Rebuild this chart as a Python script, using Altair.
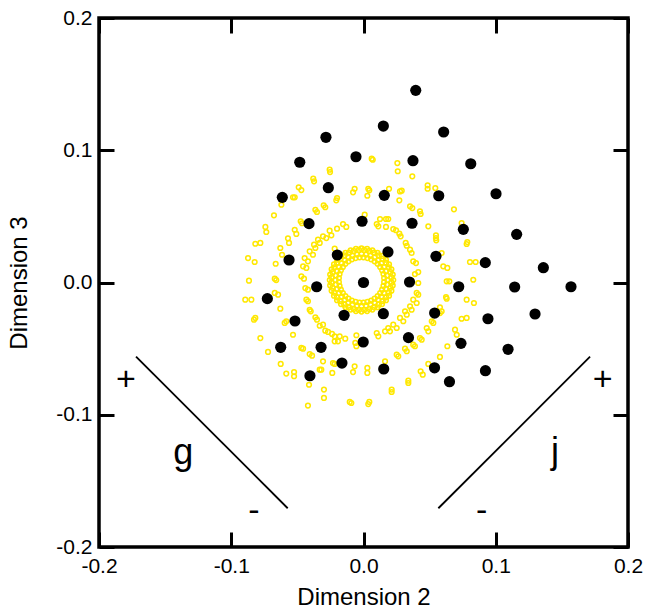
import altair as alt
import pandas as pd

# ---------------- data ----------------
black_x = [0.0395, 0.0150, 0.0606, -0.0284, -0.0482, -0.0057, 0.0374, 0.0811,
           -0.0266, -0.0614, 0.0157, 0.0569, 0.1002, -0.0412, -0.0011, 0.0367,
           0.0755, 0.1158, -0.0198, 0.0185, -0.0563, 0.0548, 0.0921, 0.1360,
           -0.0727, -0.0354, 0.0000, 0.0348, 0.0720, 0.1143, 0.1569, -0.0147,
           0.0150, -0.0518, 0.0538, 0.0941, 0.1297, -0.0002, 0.0340, 0.0737,
           0.1093, -0.0626, -0.0321, -0.0163, 0.0153, -0.0405, 0.0537, 0.0922,
           0.0650]
black_y = [0.1453, 0.1183, 0.1138, 0.1098, 0.0909, 0.0951, 0.0921, 0.0898,
           0.0717, 0.0644, 0.0659, 0.0656, 0.0671, 0.0445, 0.0463, 0.0448,
           0.0402, 0.0364, 0.0208, 0.0231, 0.0170, 0.0198, 0.0150, 0.0112,
           -0.0122, -0.0032, 0.0000, 0.0004, -0.0032, -0.0034, -0.0032, -0.0248,
           -0.0236, -0.0291, -0.0231, -0.0274, -0.0238, -0.0450, -0.0417, -0.0460,
           -0.0505, -0.0490, -0.0490, -0.0609, -0.0654, -0.0705, -0.0645, -0.0667,
           -0.0750]

# scattered yellow open circles (outer rings)
yellow_x = [-0.0256, -0.0253, -0.0380, -0.0374, -0.0490, -0.0470, -0.0533, -0.0520,
            -0.0621, -0.0677, -0.0742, -0.0735, -0.0818, -0.0780, -0.0873, -0.0823,
            -0.0866, -0.0067, -0.0079, -0.0200, -0.0206, -0.0301, -0.0289, -0.0364,
            -0.0352, -0.0475, -0.0465, -0.0520, -0.0508, -0.0571, -0.0563, -0.0629,
            -0.0616, -0.0664, -0.0671, -0.0660, 0.0009, -0.0004, -0.0155, -0.0130,
            -0.0200, -0.0256, -0.0243, -0.0306, -0.0281, -0.0344, -0.0331, -0.0374,
            -0.0364, -0.0407, -0.0382, -0.0445, -0.0420, -0.0457, -0.0432, -0.0470,
            -0.0450, -0.0218, 0.0062, 0.0070, 0.0256, 0.0259, 0.0369, 0.0485,
            0.0485, 0.0543, 0.0036, 0.0044, 0.0029, 0.0193, 0.0276, 0.0289,
            0.0271, 0.0352, 0.0369, 0.0427, 0.0432, 0.0684, 0.0490, 0.0742,
            0.0548, 0.0548, 0.0550, 0.0785, 0.0780, 0.0125, 0.0170, 0.0187,
            0.0100, 0.0112, 0.0170, 0.0225, 0.0246, 0.0271, 0.0281, 0.0319,
            0.0327, 0.0352, 0.0364, 0.0376, 0.0397, 0.0389, 0.0414, 0.0591,
            0.0603, 0.0634, 0.0805, 0.0848, 0.0830, 0.0629, 0.0649, -0.0894,
            -0.0848, -0.0671, -0.0646, -0.0629, -0.0828, -0.0818, -0.0780, -0.0722,
            -0.0626, -0.0584, -0.0525, -0.0525, -0.0420, -0.0412, -0.0299, -0.0299,
            -0.0432, -0.0420, -0.0407, -0.0399, -0.0364, -0.0352, -0.0331, -0.0306,
            -0.0289, -0.0268, -0.0238, -0.0218, -0.0180, -0.0138, -0.0218, -0.0193,
            -0.0596, -0.0584, -0.0533, -0.0470, -0.0457, -0.0407, -0.0389, -0.0306,
            -0.0331, -0.0319, -0.0231, -0.0218, -0.0236, -0.0067, -0.0079, -0.0054,
            -0.0062, -0.0054, -0.0104, -0.0092, -0.0440, -0.0420, 0.0624, 0.0629,
            0.0780, 0.0835, 0.0578, 0.0591, 0.0742, 0.0780, 0.0692, 0.0705,
            0.0634, 0.0578, 0.0490, 0.0432, 0.0448, 0.0339, 0.0339, 0.0213,
            0.0213, 0.0044, 0.0036, 0.0029, 0.0029, 0.0163, 0.0251, 0.0263,
            0.0314, 0.0327, 0.0376, 0.0389, 0.0427, 0.0440, 0.0478, 0.0490,
            0.0516, 0.0528, 0.0578, 0.0402, 0.0414, 0.0376, 0.0402, 0.0352,
            0.0364, 0.0314, 0.0327, 0.0276, 0.0301, 0.0225, 0.0251, 0.0187,
            0.0200, 0.0163, 0.0100, 0.0112, 0.0414]
yellow_y = [0.0853, 0.0835, 0.0785, 0.0765, 0.0720, 0.0699, 0.0644, 0.0644,
            0.0588, 0.0508, 0.0420, 0.0382, 0.0293, 0.0299, 0.0185, 0.0155,
            0.0014, 0.0709, 0.0682, 0.0639, 0.0621, 0.0584, 0.0569, 0.0550,
            0.0533, 0.0463, 0.0448, 0.0399, 0.0367, 0.0334, 0.0299, 0.0261,
            0.0210, 0.0142, 0.0029, 0.0018, 0.0513, 0.0450, 0.0442, 0.0420,
            0.0407, 0.0392, 0.0357, 0.0349, 0.0336, 0.0324, 0.0299, 0.0286,
            0.0261, 0.0236, 0.0210, 0.0185, 0.0160, 0.0122, 0.0110, 0.0047,
            0.0029, 0.0256, 0.0936, 0.0928, 0.0903, 0.0841, 0.0803, 0.0735,
            0.0709, 0.0714, 0.0709, 0.0697, 0.0656, 0.0709, 0.0689, 0.0694,
            0.0621, 0.0576, 0.0563, 0.0538, 0.0518, 0.0553, 0.0425, 0.0450,
            0.0357, 0.0336, 0.0319, 0.0306, 0.0291, 0.0480, 0.0480, 0.0480,
            0.0442, 0.0425, 0.0420, 0.0404, 0.0395, 0.0369, 0.0349, 0.0299,
            0.0278, 0.0248, 0.0223, 0.0160, 0.0147, 0.0064, 0.0079, 0.0223,
            0.0122, 0.0110, 0.0155, 0.0155, 0.0021, 0.0009, 0.0009, -0.0130,
            -0.0130, -0.0079, -0.0092, -0.0198, -0.0281, -0.0268, -0.0420, -0.0525,
            -0.0616, -0.0689, -0.0677, -0.0709, -0.0931, -0.0773, -0.0810, -0.0873,
            -0.0130, -0.0142, -0.0206, -0.0218, -0.0263, -0.0281, -0.0327, -0.0319,
            -0.0364, -0.0374, -0.0389, -0.0407, -0.0407, -0.0425, -0.0445, -0.0445,
            -0.0306, -0.0293, -0.0395, -0.0495, -0.0500, -0.0541, -0.0553, -0.0596,
            -0.0659, -0.0659, -0.0609, -0.0616, -0.0684, -0.0634, -0.0677, -0.0399,
            -0.0457, -0.0482, -0.0903, -0.0911, -0.0042, -0.0054, -0.0110, -0.0122,
            -0.0130, -0.0155, -0.0187, -0.0218, -0.0274, -0.0268, -0.0357, -0.0395,
            -0.0482, -0.0563, -0.0616, -0.0671, -0.0697, -0.0742, -0.0760, -0.0810,
            -0.0828, -0.0903, -0.0919, -0.0646, -0.0684, -0.0596, -0.0546, -0.0558,
            -0.0500, -0.0520, -0.0470, -0.0482, -0.0420, -0.0432, -0.0344, -0.0369,
            -0.0293, -0.0306, -0.0231, -0.0079, -0.0092, -0.0130, -0.0155, -0.0180,
            -0.0206, -0.0218, -0.0243, -0.0268, -0.0293, -0.0319, -0.0344, -0.0344,
            -0.0369, -0.0369, -0.0382, -0.0407, -0.0004]

# dense inner yellow ring (read as a thick band around the origin)
ring_x = [0.0180, 0.0177, 0.0168, 0.0154, 0.0134, 0.0110, 0.0083, 0.0052,
          0.0019, -0.0015, -0.0049, -0.0082, -0.0113, -0.0140, -0.0164, -0.0184,
          -0.0198, -0.0207, -0.0210, -0.0207, -0.0198, -0.0184, -0.0164, -0.0140,
          -0.0113, -0.0082, -0.0049, -0.0015, 0.0019, 0.0052, 0.0083, 0.0110,
          0.0134, 0.0154, 0.0168, 0.0177,
          0.0212, 0.0205, 0.0192, 0.0172, 0.0146, 0.0116, 0.0081, 0.0044,
          0.0005, -0.0035, -0.0074, -0.0111, -0.0146, -0.0176, -0.0202, -0.0222,
          -0.0235, -0.0242, -0.0242, -0.0235, -0.0222, -0.0202, -0.0176, -0.0146,
          -0.0111, -0.0074, -0.0035, 0.0005, 0.0044, 0.0081, 0.0116, 0.0146,
          0.0172, 0.0192, 0.0205, 0.0212,
          0.0156, 0.0151, 0.0141, 0.0126, 0.0107, 0.0084, 0.0058, 0.0030,
          0.0000, -0.0030, -0.0060, -0.0088, -0.0114, -0.0137, -0.0156, -0.0171,
          -0.0181, -0.0186, -0.0186, -0.0181, -0.0171, -0.0156, -0.0137, -0.0114,
          -0.0088, -0.0060, -0.0030, 0.0000, 0.0030, 0.0058, 0.0084, 0.0107,
          0.0126, 0.0141, 0.0151, 0.0156,
          0.0225, 0.0221, 0.0211, 0.0193, 0.0170, 0.0140, 0.0106, 0.0067,
          0.0027, -0.0015, -0.0057, -0.0097, -0.0136, -0.0170, -0.0200, -0.0223,
          -0.0241, -0.0252, -0.0255, -0.0252, -0.0241, -0.0223, -0.0200, -0.0170,
          -0.0136, -0.0097, -0.0057, -0.0015, 0.0027, 0.0067, 0.0106, 0.0140,
          0.0170, 0.0193, 0.0211, 0.0221]
ring_y = [0.0019, 0.0053, 0.0086, 0.0117, 0.0144, 0.0168, 0.0188, 0.0202,
          0.0211, 0.0214, 0.0211, 0.0202, 0.0188, 0.0168, 0.0144, 0.0117,
          0.0086, 0.0053, 0.0019, -0.0015, -0.0048, -0.0079, -0.0106, -0.0130,
          -0.0150, -0.0164, -0.0173, -0.0176, -0.0173, -0.0164, -0.0150, -0.0130,
          -0.0106, -0.0079, -0.0048, -0.0015,
          0.0039, 0.0078, 0.0115, 0.0150, 0.0180, 0.0206, 0.0226, 0.0239,
          0.0246, 0.0246, 0.0239, 0.0226, 0.0206, 0.0180, 0.0150, 0.0115,
          0.0078, 0.0039, -0.0001, -0.0040, -0.0077, -0.0112, -0.0142, -0.0168,
          -0.0188, -0.0201, -0.0208, -0.0208, -0.0201, -0.0188, -0.0168, -0.0142,
          -0.0112, -0.0077, -0.0040, -0.0001,
          0.0034, 0.0064, 0.0092, 0.0118, 0.0141, 0.0160, 0.0175, 0.0185,
          0.0190, 0.0190, 0.0185, 0.0175, 0.0160, 0.0141, 0.0118, 0.0092,
          0.0064, 0.0034, 0.0004, -0.0026, -0.0054, -0.0080, -0.0103, -0.0122,
          -0.0137, -0.0147, -0.0152, -0.0152, -0.0147, -0.0137, -0.0122, -0.0103,
          -0.0080, -0.0054, -0.0026, 0.0004,
          0.0019, 0.0060, 0.0100, 0.0138, 0.0172, 0.0201, 0.0225, 0.0243,
          0.0254, 0.0258, 0.0254, 0.0243, 0.0225, 0.0201, 0.0172, 0.0138,
          0.0100, 0.0060, 0.0019, -0.0022, -0.0062, -0.0100, -0.0134, -0.0163,
          -0.0187, -0.0205, -0.0216, -0.0220, -0.0216, -0.0205, -0.0187, -0.0163,
          -0.0134, -0.0100, -0.0062, -0.0022]

# annotation lines (g and j directions) and their labels
line_x1 = [-0.172, 0.0566]
line_y1 = [-0.0561, -0.1707]
line_x2 = [-0.0573, 0.1713]
line_y2 = [-0.1707, -0.0561]

label_text = ["+", "g", "-", "+", "j", "-"]
label_x = [-0.1796, -0.1363, -0.0828, 0.1809, 0.1448, 0.0894]
label_y = [-0.0740, -0.1290, -0.1730, -0.0737, -0.1280, -0.1730]
label_big = [False, True, False, False, True, False]

tick_values = [-0.2, -0.1, 0.0, 0.1, 0.2]

# ---------------- tables ----------------
df_yellow = pd.DataFrame({"x": yellow_x + ring_x, "y": yellow_y + ring_y})
df_black = pd.DataFrame({"x": black_x, "y": black_y})
df_lines = pd.DataFrame({"x": line_x1, "y": line_y1, "x2": line_x2, "y2": line_y2})
df_text = pd.DataFrame({"x": label_x, "y": label_y, "t": label_text, "big": label_big})

FONT = "Liberation Sans"
PW = 529
sx = alt.Scale(domain=[-0.2, 0.2], nice=False, zero=False)
sy = alt.Scale(domain=[-0.2, 0.2], nice=False, zero=False)

label_expr = ("datum.value < 0 ? '-' + format(-datum.value, '.1f') : "
              "format(datum.value, '.1f')")

# labelled axes (no ticks)
ax_bottom = alt.Axis(orient="bottom", values=tick_values, labelExpr=label_expr,
                     ticks=False, domain=False, grid=False, labelFont=FONT,
                     labelFontSize=21, labelColor="black", labelPadding=8,
                     title="Dimension 2", titleFont=FONT, titleFontSize=24,
                     titleFontWeight="normal", titleColor="black", titlePadding=9,
                     labelFlush=False, labelOverlap=False)
ax_left = alt.Axis(orient="left", values=tick_values, labelExpr=label_expr,
                   ticks=False, domain=False, grid=False, labelFont=FONT,
                   labelFontSize=21, labelColor="black", labelPadding=7,
                   title="Dimension 3", titleFont=FONT, titleFontSize=24,
                   titleFontWeight="normal", titleColor="black", titlePadding=24,
                   labelFlush=False, labelOverlap=False)


def tick_axis(orient):
    return alt.Axis(orient=orient, values=tick_values, offset=-PW, labels=False,
                    domain=False, grid=False, ticks=True, tickSize=15,
                    tickWidth=3, tickColor="black", title=None)


yellow = alt.Chart(df_yellow).mark_point(
    shape="circle", filled=False, color="#FFE800", size=22, strokeWidth=1.5,
    opacity=1
).encode(
    x=alt.X("x:Q", scale=sx, axis=ax_bottom),
    y=alt.Y("y:Q", scale=sy, axis=ax_left),
)

black = alt.Chart(df_black).mark_circle(color="black", size=125, opacity=1).encode(
    x=alt.X("x:Q", scale=sx, axis=tick_axis("top")),
    y=alt.Y("y:Q", scale=sy, axis=tick_axis("right")),
)

lines = alt.Chart(df_lines).mark_rule(color="black", strokeWidth=1.8).encode(
    x=alt.X("x:Q", scale=sx, axis=tick_axis("bottom")),
    y=alt.Y("y:Q", scale=sy, axis=tick_axis("left")),
    x2="x2:Q",
    y2="y2:Q",
)

texts = alt.Chart(df_text).mark_text(
    font=FONT, color="black", align="center", baseline="middle"
).encode(
    x=alt.X("x:Q", scale=sx, axis=None),
    y=alt.Y("y:Q", scale=sy, axis=None),
    text="t:N",
    size=alt.Size("big:N", scale=alt.Scale(domain=[False, True], range=[34, 36]),
                  legend=None),
)

chart = alt.layer(yellow, lines, black, texts).resolve_axis(
    x="independent", y="independent"
).properties(
    width=PW, height=PW,
    autosize=alt.AutoSizeParams(type="none"),
    padding={"left": 99, "top": 18, "right": 20, "bottom": 66},
    background="white",
).configure_view(
    stroke="black", strokeWidth=3.5
)

chart.save("out.html", embed_options={"renderer": "svg", "actions": False})
